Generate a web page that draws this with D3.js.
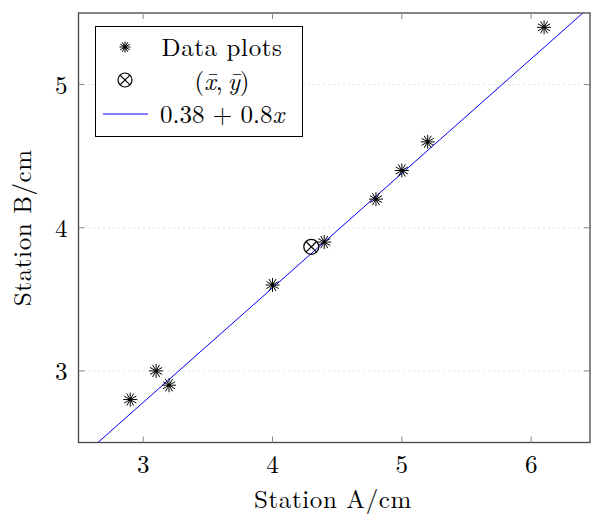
<!DOCTYPE html>
<html><head><meta charset="utf-8">
<script src="https://cdn.jsdelivr.net/npm/d3@7"></script>
<style>body{margin:0;background:#fff}</style>
</head><body>
<script>
const xValues = [2.9, 3.1, 3.2, 4.0, 4.4, 4.8, 5.0, 5.2, 6.1];
const yValues = [2.8, 3.0, 2.9, 3.6, 3.9, 4.2, 4.4, 4.6, 5.4];
const meanPoint = [4.3, 3.8667];
const intercept = 0.38, slope = 0.8;
const xTicks = [3, 4, 5, 6];
const yTicks = [3, 4, 5];
const legendLabels = ["Data plots", "mean", "fit"];

const W = 591, H = 514;
const font = "'Latin Modern Roman','CMU Serif','Liberation Serif',serif";
const FS = 25;
const svg = d3.select("body").append("svg").attr("width", W).attr("height", H)
  .style("font-family", font);

const L = 78.5, R = 590, T = 13, B = 442.5;
const x = d3.scaleLinear().domain([2.5, 6.455]).range([L, R]);
const y = d3.scaleLinear().domain([2.5, 5.5]).range([B, T]);

const g = svg.append("g");
g.selectAll(".grid").data(yTicks).enter().append("line")
  .attr("x1", L).attr("x2", R).attr("y1", d => y(d)).attr("y2", d => y(d))
  .attr("stroke", "#c8c8c8").attr("stroke-width", 1).attr("stroke-dasharray", "1,4");

svg.append("clipPath").attr("id", "clip").append("rect")
  .attr("x", L).attr("y", T).attr("width", R - L).attr("height", B - T);

const fx = [2.5, 6.455];
g.append("line").attr("clip-path", "url(#clip)")
  .attr("x1", x(fx[0])).attr("y1", y(intercept + slope * fx[0]))
  .attr("x2", x(fx[1])).attr("y2", y(intercept + slope * fx[1]))
  .attr("stroke", "#0000ff").attr("stroke-width", 1);

function star(sel, cx, cy, r) {
  const gg = sel.append("g").attr("transform", `translate(${cx},${cy})`);
  [0, 30, 60, 90, 120, 150].forEach(a => {
    const rad = a * Math.PI / 180;
    gg.append("line").attr("x1", -r * Math.cos(rad)).attr("y1", -r * Math.sin(rad))
      .attr("x2", r * Math.cos(rad)).attr("y2", r * Math.sin(rad))
      .attr("stroke", "#000").attr("stroke-width", 1);
  });
  gg.append("circle").attr("r", 1.7).attr("fill", "#000");
}
function otimes(sel, cx, cy, r) {
  const gg = sel.append("g").attr("transform", `translate(${cx},${cy})`);
  gg.append("circle").attr("r", r).attr("fill", "none").attr("stroke", "#000").attr("stroke-width", 1.2);
  const k = r * Math.SQRT1_2;
  gg.append("line").attr("x1", -k).attr("y1", -k).attr("x2", k).attr("y2", k).attr("stroke", "#000").attr("stroke-width", 1.2);
  gg.append("line").attr("x1", -k).attr("y1", k).attr("x2", k).attr("y2", -k).attr("stroke", "#000").attr("stroke-width", 1.2);
}

xValues.forEach((xv, i) => star(g, x(xv), y(yValues[i]), 7));
otimes(g, x(meanPoint[0]), y(meanPoint[1]), 7.5);

svg.append("rect").attr("x", L).attr("y", T).attr("width", R - L).attr("height", B - T)
  .attr("fill", "none").attr("stroke", "#444").attr("stroke-width", 1.3);

const tl = 6;
xTicks.forEach(t => {
  svg.append("line").attr("x1", x(t)).attr("x2", x(t)).attr("y1", B).attr("y2", B - tl).attr("stroke", "#888");
  svg.append("line").attr("x1", x(t)).attr("x2", x(t)).attr("y1", T).attr("y2", T + tl).attr("stroke", "#888");
  svg.append("text").attr("x", x(t)).attr("y", B + 30).attr("text-anchor", "middle")
    .attr("font-size", FS).text(t);
});
yTicks.forEach(t => {
  svg.append("line").attr("x1", L).attr("x2", L + tl).attr("y1", y(t)).attr("y2", y(t)).attr("stroke", "#888");
  svg.append("line").attr("x1", R).attr("x2", R - tl).attr("y1", y(t)).attr("y2", y(t)).attr("stroke", "#888");
  svg.append("text").attr("x", L - 11).attr("y", y(t) + 9).attr("text-anchor", "end")
    .attr("font-size", FS).text(t);
});

svg.append("text").attr("x", 333).attr("y", 508).attr("text-anchor", "middle")
  .attr("font-size", FS).attr("letter-spacing", 0.6).text("Station A/cm");
svg.append("text").attr("transform", `translate(31,${(T + B) / 2}) rotate(-90)`)
  .attr("text-anchor", "middle").attr("font-size", FS).attr("letter-spacing", 0.6).text("Station B/cm");

const lg = svg.append("g");
lg.append("rect").attr("x", 95.5).attr("y", 26.5).attr("width", 207).attr("height", 110)
  .attr("fill", "#fff").attr("stroke", "#000").attr("stroke-width", 1);
star(lg, 125, 47, 5.5);
otimes(lg, 125, 80, 7);
lg.append("line").attr("x1", 103).attr("x2", 148).attr("y1", 114).attr("y2", 114)
  .attr("stroke", "#0000ff").attr("stroke-width", 1);
const tx = 222;
lg.append("text").attr("x", tx).attr("y", 56).attr("text-anchor", "middle").attr("font-size", FS).attr("letter-spacing", 0.6).text(legendLabels[0]);
const t2 = lg.append("text").attr("x", tx).attr("y", 90).attr("text-anchor", "middle").attr("font-size", FS);
t2.append("tspan").text("(");
t2.append("tspan").attr("font-style", "italic").text("x\u0304");
t2.append("tspan").text(",\u2009");
t2.append("tspan").attr("font-style", "italic").text("y\u0304");
t2.append("tspan").text(")");
const t3 = lg.append("text").attr("x", tx).attr("y", 123).attr("text-anchor", "middle").attr("font-size", FS);
t3.append("tspan").text(intercept + " + " + slope);
t3.append("tspan").attr("font-style", "italic").text("x");
</script>
</body></html>
